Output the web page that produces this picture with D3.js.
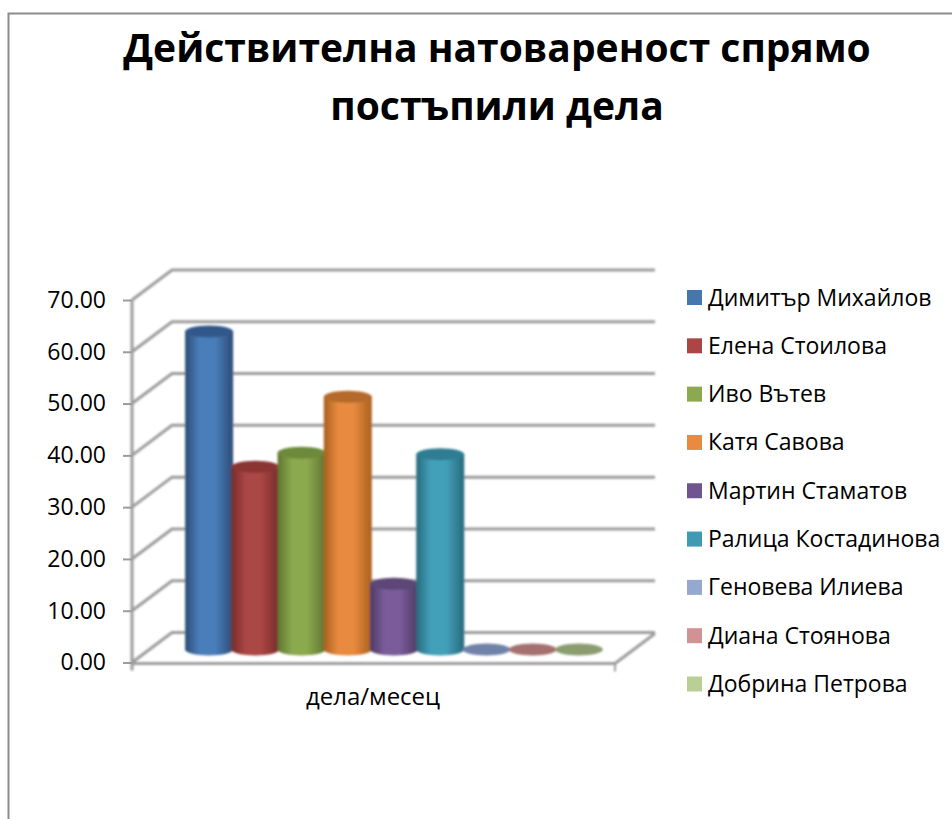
<!DOCTYPE html>
<html>
<head>
<meta charset="utf-8">
<script src="https://cdn.jsdelivr.net/npm/d3@7"></script>
<style>
  html, body { margin: 0; padding: 0; background: #fff; }
  text { font-family: "Open Sans", "Noto Sans", sans-serif; fill: #000; }
</style>
</head>
<body>
<div id="container"></div>
<script>
/* DATA */
const names = ["Димитър Михайлов", "Елена Стоилова", "Иво Вътев", "Катя Савова", "Мартин Стаматов",
  "Ралица Костадинова", "Геновева Илиева", "Диана Стоянова", "Добрина Петрова"];
const values = [61.4, 35.3, 38.0, 48.8, 12.7, 37.7, 0, 0, 0];
const yTicks = [0, 10, 20, 30, 40, 50, 60, 70];
const titleLines = ["Действителна натовареност спрямо", "постъпили дела"];
const categoryLabel = "дела/месец";

/* COLORS */
const legendColors = ["#4676ae", "#ab4644", "#8ba94e", "#e88b3f", "#70548f", "#3f9ab3", "#94a8d0", "#d29294", "#bacf95"];
const barColors = ["#4a7ebb", "#ab4644", "#8ba94e", "#e88b3f", "#7a5c9a", "#43a0b9", "#95b3d7", "#d99694", "#c3d69b"];
const edgeColors = ["#2c4d75", "#772c2a", "#5f7530", "#a9601f", "#4d3b62", "#276a7c", "#6f82a8", "#a5706f", "#8b9d6f"];
const topColors = ["#33598a", "#8a3533", "#6d8a3a", "#b5692b", "#5c4776", "#2f7d92", "#6f82a8", "#a5706f", "#8b9d6f"];
const gridColor = "#9b9b9b";

/* CONSTANTS */
const width = 952, height = 819;
const depthX = 40, depthY = -30;   // shift from front wall to back wall
const barWidth = 48, capRy = 6;
const baseShift = 13;              // bars stand this far behind the front edge

const yScale = d3.scaleLinear().domain([0, 70]).range([662.5, 300]);
const xScale = d3.scaleBand().domain(names).range([186, 602]);

const svg = d3.select("#container").append("svg")
  .attr("width", width).attr("height", height)
  .style("display", "block");

const defs = svg.append("defs");
defs.append("filter").attr("id", "soft")
  .append("feGaussianBlur").attr("stdDeviation", 0.8);

names.forEach((n, i) => {
  const grad = defs.append("linearGradient").attr("id", "bar" + i);
  grad.append("stop").attr("offset", "0%").attr("stop-color", edgeColors[i]);
  grad.append("stop").attr("offset", "30%").attr("stop-color", barColors[i]);
  grad.append("stop").attr("offset", "62%").attr("stop-color", barColors[i]);
  grad.append("stop").attr("offset", "100%").attr("stop-color", edgeColors[i]);
});

// page border
svg.append("path")
  .attr("d", `M${width},13.5H8.5V${height}`)
  .attr("fill", "none").attr("stroke", "#8c8c8c").attr("stroke-width", 2);

/* TITLE */
svg.append("g").selectAll("text")
  .data(titleLines)
  .join("text")
  .attr("x", 497)
  .attr("y", (d, i) => 62 + i * 58)
  .attr("text-anchor", "middle")
  .attr("font-size", 39)
  .attr("font-weight", 700)
  .text(d => d);

/* WALLS */
const plot = svg.append("g").attr("filter", "url(#soft)");
const x0 = 132, x1 = 615;

plot.append("g").selectAll("path")
  .data(yTicks)
  .join("path")
  .attr("d", d => `M${x0},${yScale(d)}l${depthX},${depthY}H${x1 + depthX}`)
  .attr("fill", "none")
  .attr("stroke", gridColor)
  .attr("stroke-width", 3);

// floor front and right edges
plot.append("path")
  .attr("d", `M${x0},${yScale(0) + 1}H${x1}l${depthX},${depthY}`)
  .attr("fill", "none").attr("stroke", gridColor).attr("stroke-width", 3);
plot.append("path")
  .attr("d", `M${x1},${yScale(0) + 1}v8`)
  .attr("fill", "none").attr("stroke", gridColor).attr("stroke-width", 2);

/* Y AXIS */
const yAxis = d3.axisLeft(yScale)
  .tickValues(yTicks)
  .tickFormat(d3.format(".2f"))
  .tickSize(9)
  .tickPadding(17);
const axisG = svg.append("g")
  .attr("transform", `translate(${x0}, 0)`)
  .call(yAxis);
axisG.select(".domain").remove();
axisG.selectAll("line").attr("stroke", gridColor).attr("stroke-width", 2);
axisG.selectAll("text").attr("font-size", 23).attr("fill", "#000");

plot.append("line")
  .attr("x1", x0).attr("x2", x0)
  .attr("y1", yScale(70)).attr("y2", yScale(0) + 8)
  .attr("stroke", gridColor).attr("stroke-width", 3);

/* BARS - the empty ones are only a flat disk */
const bars = plot.append("g").selectAll("g")
  .data(names.map((n, i) => ({ name: n, value: values[i], i })))
  .join("g");

const cx = d => xScale(d.name) + xScale.bandwidth() / 2;
const topY = d => yScale(d.value) - baseShift;
const baseY = yScale(0) - baseShift;

bars.filter(d => d.value > 0).append("path")
  .attr("d", d => {
    const l = cx(d) - barWidth / 2;
    return `M${l},${topY(d)}V${baseY}A${barWidth / 2},${capRy} 0 0 0 ${l + barWidth},${baseY}V${topY(d)}Z`;
  })
  .attr("fill", d => `url(#bar${d.i})`);

bars.append("ellipse")
  .attr("cx", cx)
  .attr("cy", topY)
  .attr("rx", barWidth / 2)
  .attr("ry", capRy)
  .attr("fill", d => topColors[d.i]);

/* CATEGORY LABEL */
svg.append("text")
  .attr("x", 373).attr("y", 705)
  .attr("text-anchor", "middle")
  .attr("font-size", 24)
  .text(categoryLabel);

/* LEGEND */
const legendY = d3.scalePoint().domain(names).range([297.5, 684]);
const legend = svg.append("g").selectAll("g")
  .data(names)
  .join("g")
  .attr("transform", d => `translate(687, ${legendY(d)})`);

legend.append("rect")
  .attr("y", -7.5)
  .attr("width", 15).attr("height", 15)
  .attr("fill", (d, i) => legendColors[i]);

legend.append("text")
  .attr("x", 21).attr("y", 8)
  .attr("font-size", 23)
  .text(d => d);
</script>
</body>
</html>
